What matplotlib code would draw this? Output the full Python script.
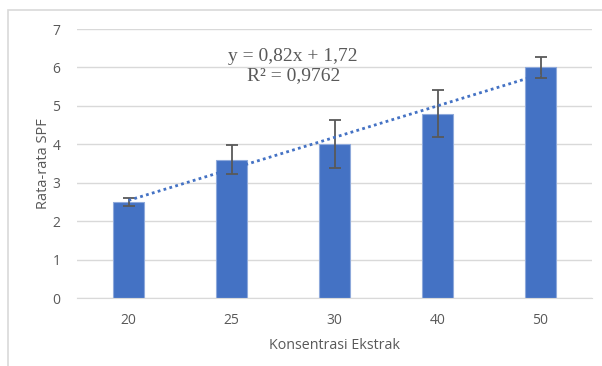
import numpy as np
import matplotlib.pyplot as plt
from matplotlib.patches import Rectangle

# data
konsentrasi = ['20', '25', '30', '40', '50']
spf = [2.5, 3.6, 4.0, 4.8, 6.0]
sd = [0.1, 0.38, 0.63, 0.62, 0.27]

blue = '#4472C4'
grey_txt = '#595959'

fig = plt.figure(figsize=(6.02, 3.66), dpi=100)
ax = fig.add_axes([77/602, 1 - 298/366, (592 - 77)/602, (298 - 29)/366])

# chart border
fig.patches.append(Rectangle((8/602, -0.1), 1.2, 1 - 10/366 + 0.1, transform=fig.transFigure,
                             fill=False, edgecolor='#D9D9D9', linewidth=1.2, zorder=0))

x = np.arange(len(konsentrasi))
ax.bar(x, spf, width=0.31, color=blue, edgecolor='#8EA9DB', linewidth=0.8, zorder=2)
ax.errorbar(x, spf, yerr=sd, fmt='none', ecolor=grey_txt, elinewidth=1.3,
            capsize=4, capthick=1.3, zorder=3)

# linear trendline on category index (1..5)
idx = x + 1
slope, intercept = np.polyfit(idx, spf, 1)
ax.plot(x, slope * idx + intercept, linestyle=(0, (1, 1.2)), color=blue, linewidth=2, zorder=4)
r2 = np.corrcoef(idx, spf)[0, 1] ** 2
eq = 'y = {:.2f}x + {:.2f}\nR² = {:.4f}'.format(slope, intercept, r2).replace('.', ',')
ax.text(1.6, 6.5, eq, ha='center', va='top', family='Liberation Serif', fontsize=14,
        color=grey_txt, linespacing=1.12)

ax.set_xlim(-0.5, 4.5)
ax.set_ylim(0, 7)
ax.set_xticks(x)
ax.set_xticklabels(konsentrasi)
ax.set_yticks(range(0, 8))
ax.grid(axis='y', color='#D9D9D9', linewidth=1, zorder=0)
ax.set_axisbelow(True)
for s in ['top', 'right', 'left']:
    ax.spines[s].set_visible(False)
ax.spines['bottom'].set_color('#D9D9D9')
ax.tick_params(length=0, colors=grey_txt, labelsize=10, pad=11)
ax.tick_params(axis='y', pad=12)
for t in ax.get_xticklabels() + ax.get_yticklabels():
    t.set_family('Open Sans')

ax.set_xlabel('Konsentrasi Ekstrak', color=grey_txt, fontsize=10.3, family='Open Sans', labelpad=7)
ax.set_ylabel('Rata-rata SPF', color=grey_txt, fontsize=10.5, family='Open Sans', labelpad=1)

fig.savefig('out.png', dpi=100)
